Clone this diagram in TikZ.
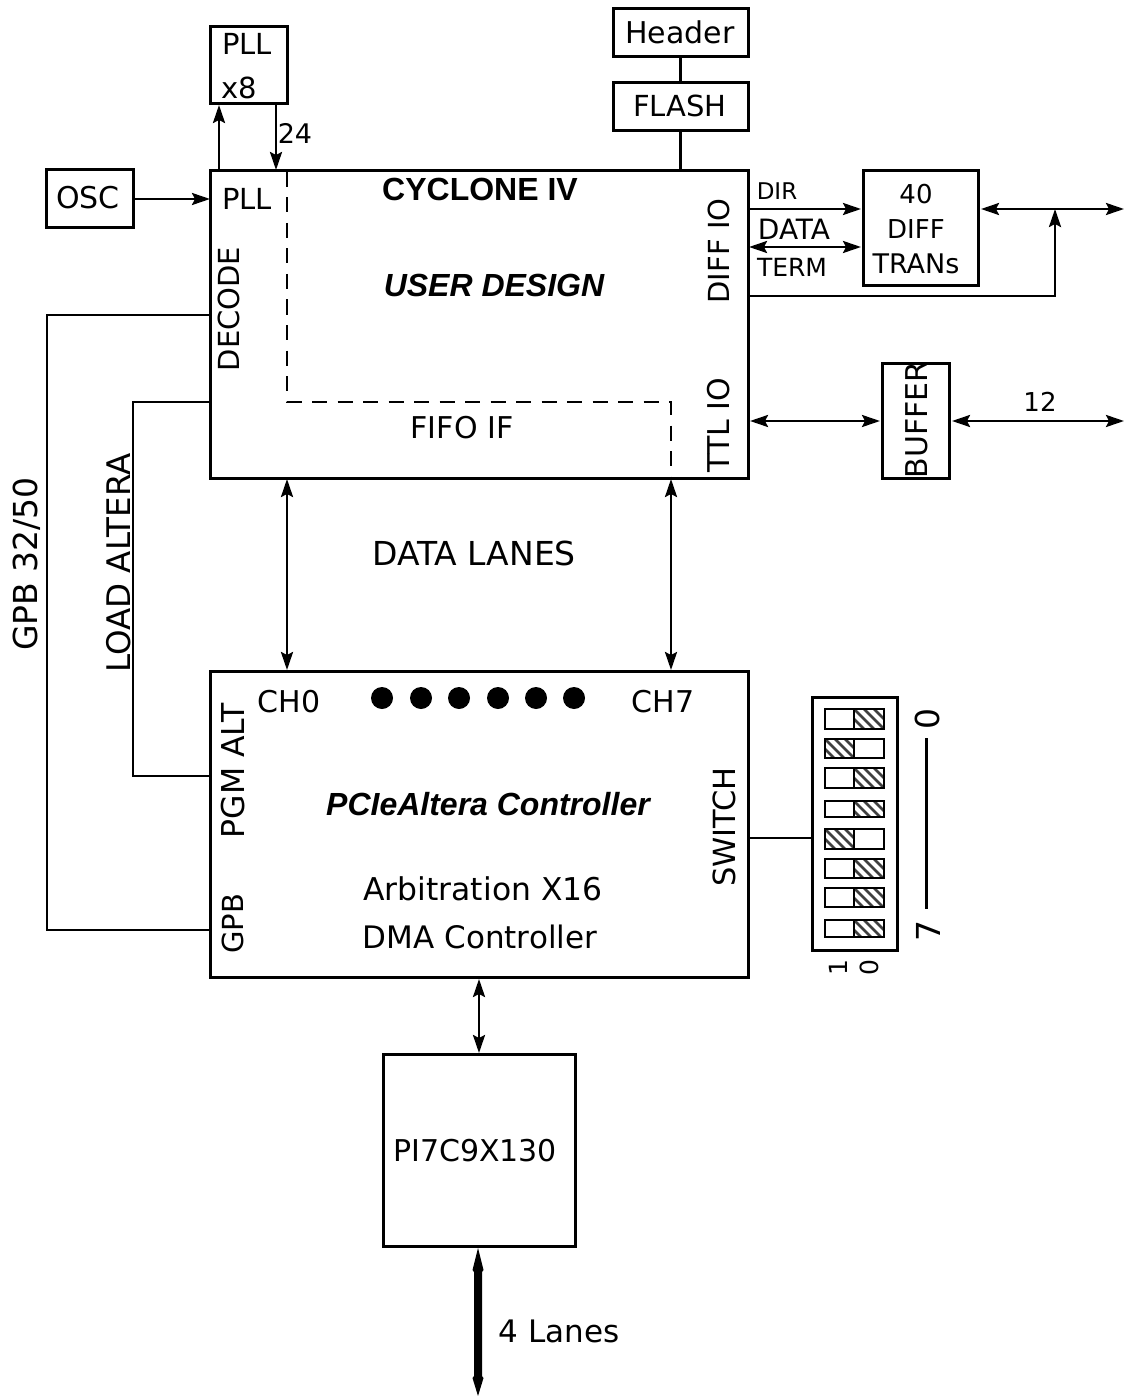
\documentclass[tikz,border=0pt]{standalone}
\usepackage{fontspec}
\setmainfont{DejaVu Sans}
\newfontfamily\helv{Liberation Sans}
\usetikzlibrary{arrows.meta,calc}
\tikzset{
  x=1pt,y=-1pt,
  box/.style={draw=black,line width=3pt,fill=white,inner sep=0pt,outer sep=0pt},
  wire/.style={draw=black,line width=2.6pt,line join=miter},
  tip/.tip={Stealth[length=18pt,width=12pt,inset=3pt]},
  oneway/.style={wire,-tip},
  twoway/.style={wire,tip-tip},
  dashwire/.style={draw=black,line width=2.6pt,dash pattern=on 15pt off 10.5pt},
  fs/.style={inner sep=0pt,outer sep=0pt,font=\fontsize{#1}{#1}\selectfont},
  vert/.style={rotate=90},
  heavy/.style={inner sep=0pt,outer sep=0pt,font=\helv\bfseries\fontsize{32}{34}\selectfont},
  heavyit/.style={inner sep=0pt,outer sep=0pt,font=\helv\bfseries\itshape\fontsize{32}{34}\selectfont},
  togglebox/.style={draw=black,line width=2.8pt,fill=white},
  dot/.style={circle,fill=black,inner sep=0pt,outer sep=0pt,minimum size=22pt},
}
% #1 y top, #2 y bottom, #3 x left of hatched half, #4 x right of hatched half, #5 x left, #6 x right
\newcommand{\toggleRow}[6]{%
  \draw[togglebox] (#5,#1) rectangle (#6,#2);
  \begin{scope}
    \clip (#3,#1) rectangle (#4,#2);
    \foreach \k in {-30,-20,...,60}{
      \draw[line width=2.6pt,black!75] (#3+\k-10,#1-10) -- (#3+\k+40,#1+40);
    }
  \end{scope}
  \draw[line width=2.8pt] (#3,#1) rectangle (#4,#2);
  \draw[togglebox,fill=none] (#5,#1) rectangle (#6,#2);
}
\begin{document}
\begin{tikzpicture}
\useasboundingbox (0,0) rectangle (1124,1396);
\fill[white] (0,0) rectangle (1124,1396);

% boxes
\node[box,minimum width=77pt,minimum height=77pt] (pll8) at (248.5,65.5) {};
\node[box,minimum width=135pt,minimum height=48pt] (header) at (680.5,33) {};
\node[box,minimum width=135pt,minimum height=48pt] (flash) at (680.5,107) {};
\node[box,minimum width=87pt,minimum height=58pt] (osc) at (89.5,199) {};
\node[box,minimum width=538pt,minimum height=307pt] (cyc) at (479,324.5) {};
\node[box,minimum width=115pt,minimum height=115pt] (diff) at (920.5,228.5) {};
\node[box,minimum width=67pt,minimum height=115pt] (buffer) at (915.5,420.5) {};
\node[box,minimum width=538pt,minimum height=306pt] (pcie) at (479,824) {};
\node[box,minimum width=85pt,minimum height=253pt] (sw) at (854.5,823.5) {};
\node[box,minimum width=192pt,minimum height=192pt] (pi7) at (479,1150) {};

% free ends
\coordinate (rightA) at (1124,209);
\coordinate (rightB) at (1124,421);
\coordinate (busEnd) at (478,1396);
\coordinate (busTop) at (478,1248);
\coordinate (joinA) at (1055,209);
\coordinate (leftA) at (47,315);
\coordinate (leftB) at (133,402);

% connectors
\draw[oneway] (osc.east) -- (osc.east -| cyc.west);
\draw[oneway] (219,171) -- (219,105);
\draw[oneway] (276,104) -- (276,170);
\draw[wire] (header.south) -- (flash.north);
\draw[wire] (flash.south) -- (flash.south |- cyc.north);
\draw[oneway] (748,209) -- (861,209);
\draw[twoway] (749,247) -- (861,247);
\draw[twoway] (981,209) -- (rightA);
\draw[oneway] (748,296) -| (joinA);
\draw[twoway] (750,421) -- (880,421);
\draw[twoway] (952,421) -- (rightB);
\draw[wire] (210,315) -- (leftA) |- (210,930);
\draw[wire] (210,402) -- (leftB) |- (210,776);
\draw[twoway] (287,479) -- (287,670);
\draw[twoway] (671,479) -- (671,670);
\draw[twoway] (479,979) -- (479,1053);
\fill[black] (busTop) -- (483.5,1270) -- (482,1272) -- (482,1376) -- (483.5,1378) -- (busEnd)
  -- (472.5,1378) -- (474,1376) -- (474,1272) -- (472.5,1270) -- cycle;
\draw[wire] (748,838) -- (812,838);
\draw[dashwire] (287,172) -- (287,402) -- (671,402) -- (671,478);

% switch
\toggleRow{709}{729}{854}{884}{825}{884}
\toggleRow{739}{758}{825}{854}{825}{884}
\toggleRow{768}{788}{854}{884}{825}{884}
\toggleRow{801}{817}{854}{884}{825}{884}
\toggleRow{829}{849}{825}{854}{825}{884}
\toggleRow{859}{878}{854}{884}{825}{884}
\toggleRow{888}{907}{854}{884}{825}{884}
\toggleRow{920}{937}{854}{884}{825}{884}
\draw[line width=2.6pt] (926.5,738) -- (926.5,909);
\node[fs=33,vert] (sw0) at (927,719) {0};
\node[fs=33,vert] (sw7) at (928,931) {7};
\node[fs=25,vert] (sw1) at (838,968) {1};
\node[fs=25,vert] (swz) at (869,968) {0};

% dots
\foreach \i/\xx in {1/382,2/421,3/459,4/498,5/536,6/574}{
  \node[dot] (d\i) at (\xx,698) {};
}

% labels
\node[fs=30] (tHeader) at (680,32) {Header};
\node[fs=29] (tFlash) at (680,106) {FLASH};
\node[fs=29] (tPll1) at (247,44) {PLL};
\node[fs=29] (tPll2) at (239,88) {x8};
\node[fs=27] (t24) at (295,133) {24};
\node[fs=30] (tOsc) at (88,198) {OSC};
\node[fs=29] (tPll3) at (247,199) {PLL};
\node[heavy] (tCyc) at (480,189) {CYCLONE IV};
\node[heavyit] (tUser) at (494,285) {USER DESIGN};
\node[fs=29,vert] (tDec) at (229,309) {DECODE};
\node[fs=29,vert] (tDiffIO) at (719,251) {DIFF IO};
\node[fs=30,vert] (tTtl) at (719,425) {TTL IO};
\node[fs=30] (tFifo) at (462,428) {FIFO IF};
\node[fs=33] (tLanes) at (474,553) {DATA LANES};
\node[fs=23] (tDir) at (777,191) {DIR};
\node[fs=28] (tData) at (794,229) {DATA};
\node[fs=25] (tTerm) at (792,267) {TERM};
\node[fs=26] (t40) at (916,194) {40};
\node[fs=26] (tDiff) at (916,229) {DIFF};
\node[fs=27] (tTrans) at (916,264) {TRANs};
\node[fs=30,vert] (tBuf) at (917,420) {BUFFER};
\node[fs=26] (t12) at (1040,402) {12};
\node[fs=30] (tCh0) at (289,702) {CH0};
\node[fs=30] (tCh7) at (663,702) {CH7};
\node[heavyit] (tPcie) at (488,804) {PCIeAltera Controller};
\node[fs=31.4] (tArb) at (483,889) {Arbitration X16};
\node[fs=31] (tDma) at (480,937) {DMA Controller};
\node[fs=31.5,vert] (tPgm) at (233,771) {PGM ALT};
\node[fs=29,vert] (tGpb) at (233,924) {GPB};
\node[fs=30.5,vert] (tSwitch) at (724,827) {SWITCH};
\node[fs=32.5,vert] (tLoad) at (119,563) {LOAD ALTERA};
\node[fs=33,vert] (tGpb2) at (27,564) {GPB 32/50};
\node[fs=30] (tPi) at (475,1151) {PI7C9X130};
\node[fs=31] (tFour) at (559,1331) {4 Lanes};
\end{tikzpicture}
\end{document}
